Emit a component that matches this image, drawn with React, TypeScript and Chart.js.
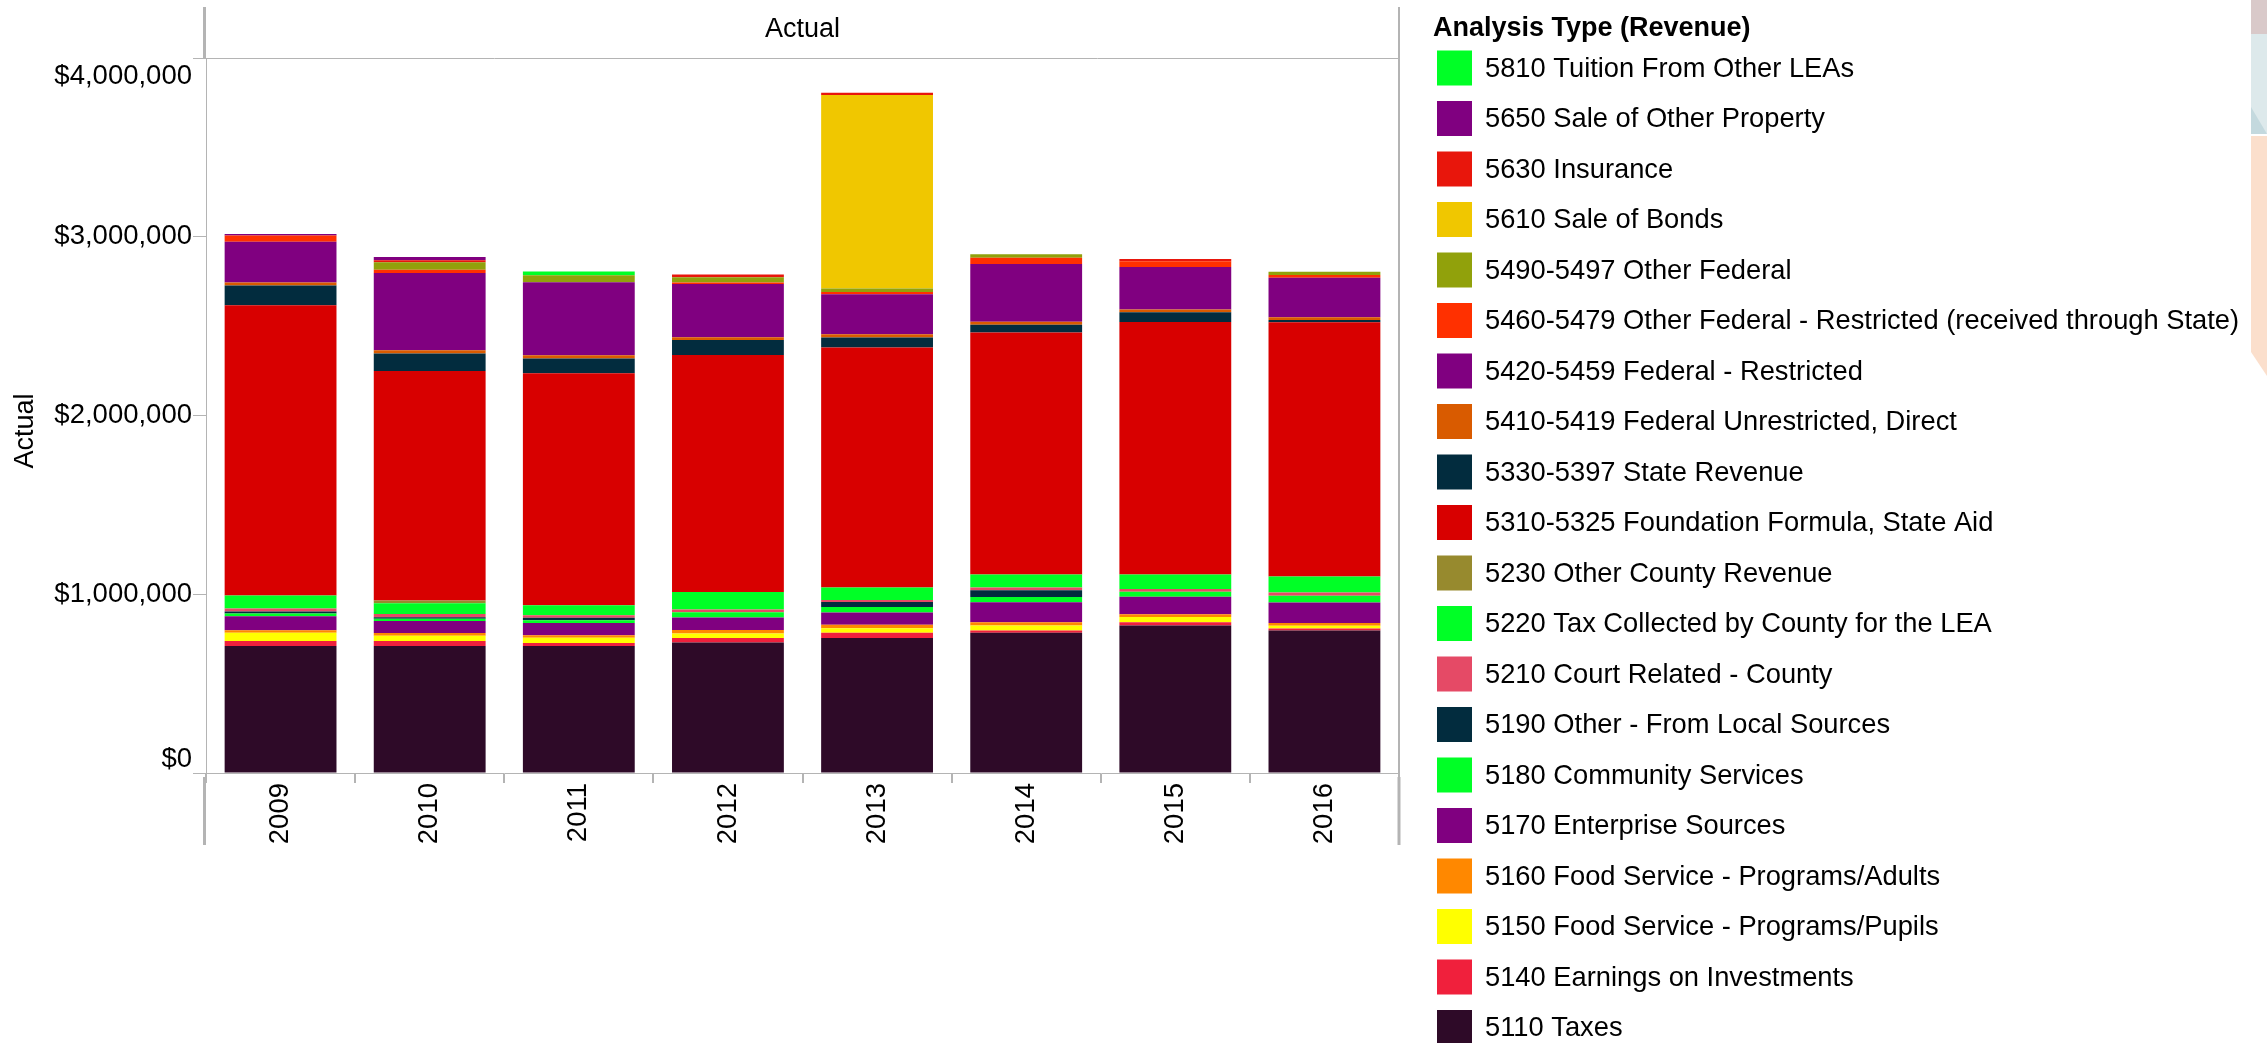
import React, { useEffect, useRef } from "react";
import { Chart, registerables } from "chart.js";

Chart.register(...registerables);

// ---------- data ----------
const years = ["2009", "2010", "2011", "2012", "2013", "2014", "2015", "2016"];
const yTickValues = [0, 1000000, 2000000, 3000000, 4000000];

// stacked from bottom (5110) to top (5810)
const taxes5110 = [710000, 710000, 710000, 730000, 755000, 785000, 825000, 797000];
const earnings5140 = [28000, 28000, 17000, 25000, 30000, 12000, 18000, 12000];
const foodPupils5150 = [46000, 30000, 30000, 25000, 25000, 28000, 30000, 15000];
const foodAdults5160 = [15000, 15000, 13000, 20000, 20000, 18000, 15000, 15000];
const enterprise5170 = [78000, 67000, 69000, 70000, 68000, 112000, 98000, 115000];
const community5180 = [15000, 13000, 15000, 30000, 30000, 30000, 28000, 38000];
const otherLocal5190 = [11000, 9000, 15000, 0, 28000, 38000, 0, 0];
const court5210 = [17000, 18000, 13000, 15000, 12000, 15000, 15000, 18000];
const taxCounty5220 = [73000, 60000, 56000, 98000, 70000, 72000, 82000, 90000];
const otherCounty5230 = [0, 15000, 0, 0, 0, 0, 0, 0];
const foundation5310 = [1624000, 1284000, 1299000, 1325000, 1343000, 1355000, 1412000, 1422000];
const stateRevenue5330 = [110000, 98000, 82000, 85000, 55000, 42000, 55000, 12000];
const fedUnrestricted5410 = [17000, 18000, 18000, 15000, 18000, 18000, 15000, 15000];
const fedRestricted5420 = [228000, 432000, 408000, 298000, 225000, 322000, 238000, 222000];
const otherFedState5460 = [35000, 18000, 0, 8000, 12000, 35000, 32000, 15000];
const otherFederal5490 = [0, 42000, 40000, 30000, 20000, 20000, 0, 18000];
const bonds5610 = [0, 0, 0, 0, 1082000, 0, 0, 0];
const insurance5630 = [0, 12000, 0, 15000, 12000, 0, 12000, 0];
const otherProperty5650 = [8000, 18000, 0, 0, 0, 0, 0, 0];
const tuition5810 = [0, 0, 20000, 0, 0, 0, 0, 0];

const seriesLabels = [
  "5110 Taxes",
  "5140 Earnings on Investments",
  "5150 Food Service - Programs/Pupils",
  "5160 Food Service - Programs/Adults",
  "5170 Enterprise Sources",
  "5180 Community Services",
  "5190 Other - From Local Sources",
  "5210 Court Related - County",
  "5220 Tax Collected by County for the LEA",
  "5230 Other County Revenue",
  "5310-5325 Foundation Formula, State Aid",
  "5330-5397 State Revenue",
  "5410-5419 Federal Unrestricted, Direct",
  "5420-5459 Federal - Restricted",
  "5460-5479 Other Federal - Restricted (received through State)",
  "5490-5497 Other Federal",
  "5610 Sale of Bonds",
  "5630 Insurance",
  "5650 Sale of Other Property",
  "5810 Tuition From Other LEAs",
];
const seriesValues = [
  taxes5110, earnings5140, foodPupils5150, foodAdults5160, enterprise5170,
  community5180, otherLocal5190, court5210, taxCounty5220, otherCounty5230,
  foundation5310, stateRevenue5330, fedUnrestricted5410, fedRestricted5420,
  otherFedState5460, otherFederal5490, bonds5610, insurance5630,
  otherProperty5650, tuition5810,
];
const seriesColors = [
  "#2e0a28", "#f0203c", "#ffff00", "#ff8800", "#800080",
  "#00ff26", "#022c3e", "#e54a66", "#00ff26", "#978a2e",
  "#d80000", "#022c3e", "#d95b00", "#800080", "#ff3000",
  "#91a10b", "#f0c700", "#e8160c", "#800080", "#00ff26",
];

const FONT = '"Liberation Sans", Arial, Helvetica, sans-serif';
const GRAY = "#b4b4b4";

function fmtDollar(v: number) {
  return "$" + v.toLocaleString("en-US");
}

function line(ctx: CanvasRenderingContext2D, x1: number, y1: number, x2: number, y2: number, w: number) {
  ctx.lineWidth = w;
  ctx.beginPath();
  ctx.moveTo(x1, y1);
  ctx.lineTo(x2, y2);
  ctx.stroke();
}

const framePlugin = {
  id: "frameAndLegend",
  beforeDraw(chart: any) {
    const ctx: CanvasRenderingContext2D = chart.ctx;
    ctx.save();
    ctx.fillStyle = "#ffffff";
    ctx.fillRect(0, 0, chart.width, chart.height);
    // decorative shapes at right page edge
    const x0 = 2251;
    const W = chart.width;
    ctx.fillStyle = "#d9c9c9";
    ctx.fillRect(x0, 0, W - x0, 34);
    ctx.fillStyle = "#dde9eb";
    ctx.fillRect(x0, 34, W - x0, 100);
    ctx.fillStyle = "#c4d9de";
    ctx.beginPath();
    ctx.moveTo(x0, 107);
    ctx.lineTo(W, 134);
    ctx.lineTo(x0, 134);
    ctx.closePath();
    ctx.fill();
    ctx.fillStyle = "#fbdfcc";
    ctx.beginPath();
    ctx.moveTo(x0, 136);
    ctx.lineTo(W, 136);
    ctx.lineTo(W, 376);
    ctx.lineTo(x0, 352);
    ctx.closePath();
    ctx.fill();
    ctx.restore();
  },
  afterDraw(chart: any) {
    const ctx: CanvasRenderingContext2D = chart.ctx;
    const a = chart.chartArea;
    const yScale = chart.scales.y;
    ctx.save();
    ctx.strokeStyle = GRAY;
    // header / frame lines
    line(ctx, 193, a.top + 0.5, a.right, a.top + 0.5, 1);
    line(ctx, a.left - 1.5, 7, a.left - 1.5, a.top, 3);
    line(ctx, a.left - 1.5, a.bottom + 4, a.left - 1.5, 845, 3);
    line(ctx, a.right, 7, a.right, a.bottom, 2);
    line(ctx, a.right, a.bottom + 4, a.right, 845, 3);

    ctx.fillStyle = "#000000";
    ctx.font = `27px ${FONT}`;
    ctx.textBaseline = "middle";
    // header title
    ctx.textAlign = "center";
    ctx.fillText("Actual", (a.left + a.right) / 2, 30);

    // y tick labels (kept inside the pane like the original)
    ctx.font = `27.5px ${FONT}`;
    ctx.textAlign = "right";
    for (const v of yTickValues) {
      const p = yScale.getPixelForValue(v);
      const py = Math.min(Math.max(p, a.top + 18), a.bottom - 14);
      ctx.fillText(fmtDollar(v), 192, py);
    }

    // y axis title
    ctx.font = `27px ${FONT}`;
    ctx.save();
    ctx.translate(26, 431);
    ctx.rotate(-Math.PI / 2);
    ctx.textAlign = "center";
    ctx.fillText("Actual", 0, 0);
    ctx.restore();

    // legend
    ctx.textAlign = "left";
    ctx.font = `bold 27px ${FONT}`;
    ctx.fillText("Analysis Type (Revenue)", 1433, 29);
    ctx.font = `27.3px ${FONT}`;
    const ds = chart.data.datasets.slice().reverse();
    ds.forEach((d: any, i: number) => {
      const cy = 68 + i * 50.5;
      ctx.fillStyle = d.backgroundColor;
      ctx.fillRect(1437, cy - 17.5, 35, 35);
      ctx.fillStyle = "#000000";
      ctx.fillText(d.label, 1485, cy + 1);
    });
    ctx.restore();
  },
};

export default function App() {
  const ref = useRef<HTMLCanvasElement | null>(null);

  useEffect(() => {
    if (!ref.current) return;
    const datasets = seriesLabels.map((label, i) => ({
      label,
      data: seriesValues[i],
      backgroundColor: seriesColors[i],
      borderWidth: 0,
      barPercentage: 0.75,
      categoryPercentage: 1.0,
    }));
    const chart = new Chart(ref.current, {
      type: "bar",
      data: { labels: years, datasets },
      options: {
        responsive: false,
        animation: false,
        devicePixelRatio: 1,
        layout: { padding: { left: 0, top: 58, right: 2267 - 1399, bottom: 0 } },
        plugins: {
          legend: { display: false },
          tooltip: { enabled: false },
          title: { display: false },
        },
        scales: {
          x: {
            type: "category",
            stacked: true,
            offset: true,
            grid: {
              offset: true,
              drawOnChartArea: false,
              drawTicks: true,
              tickLength: 10,
              color: GRAY,
              lineWidth: 2,
            },
            border: { display: true, color: GRAY, width: 1 },
            ticks: {
              minRotation: 90,
              maxRotation: 90,
              autoSkip: false,
              padding: 0,
              color: "#000000",
              font: { size: 27.5, family: FONT },
            },
            afterFit: (scale: any) => {
              scale.height = 1043 - 773;
            },
          },
          y: {
            stacked: true,
            min: 0,
            max: 4000000,
            ticks: { display: false, stepSize: 1000000 },
            grid: {
              drawOnChartArea: false,
              drawTicks: true,
              tickLength: 13,
              color: GRAY,
              lineWidth: 1,
            },
            border: { display: true, color: GRAY, width: 1 },
            afterFit: (scale: any) => {
              scale.width = 206;
            },
          },
        },
      },
      plugins: [framePlugin],
    } as any);
    return () => chart.destroy();
  }, []);

  return (
    <div style={{ position: "absolute", left: 0, top: 0, width: 2267, height: 1043 }}>
      <canvas ref={ref} width={2267} height={1043} style={{ display: "block" }} />
    </div>
  );
}
